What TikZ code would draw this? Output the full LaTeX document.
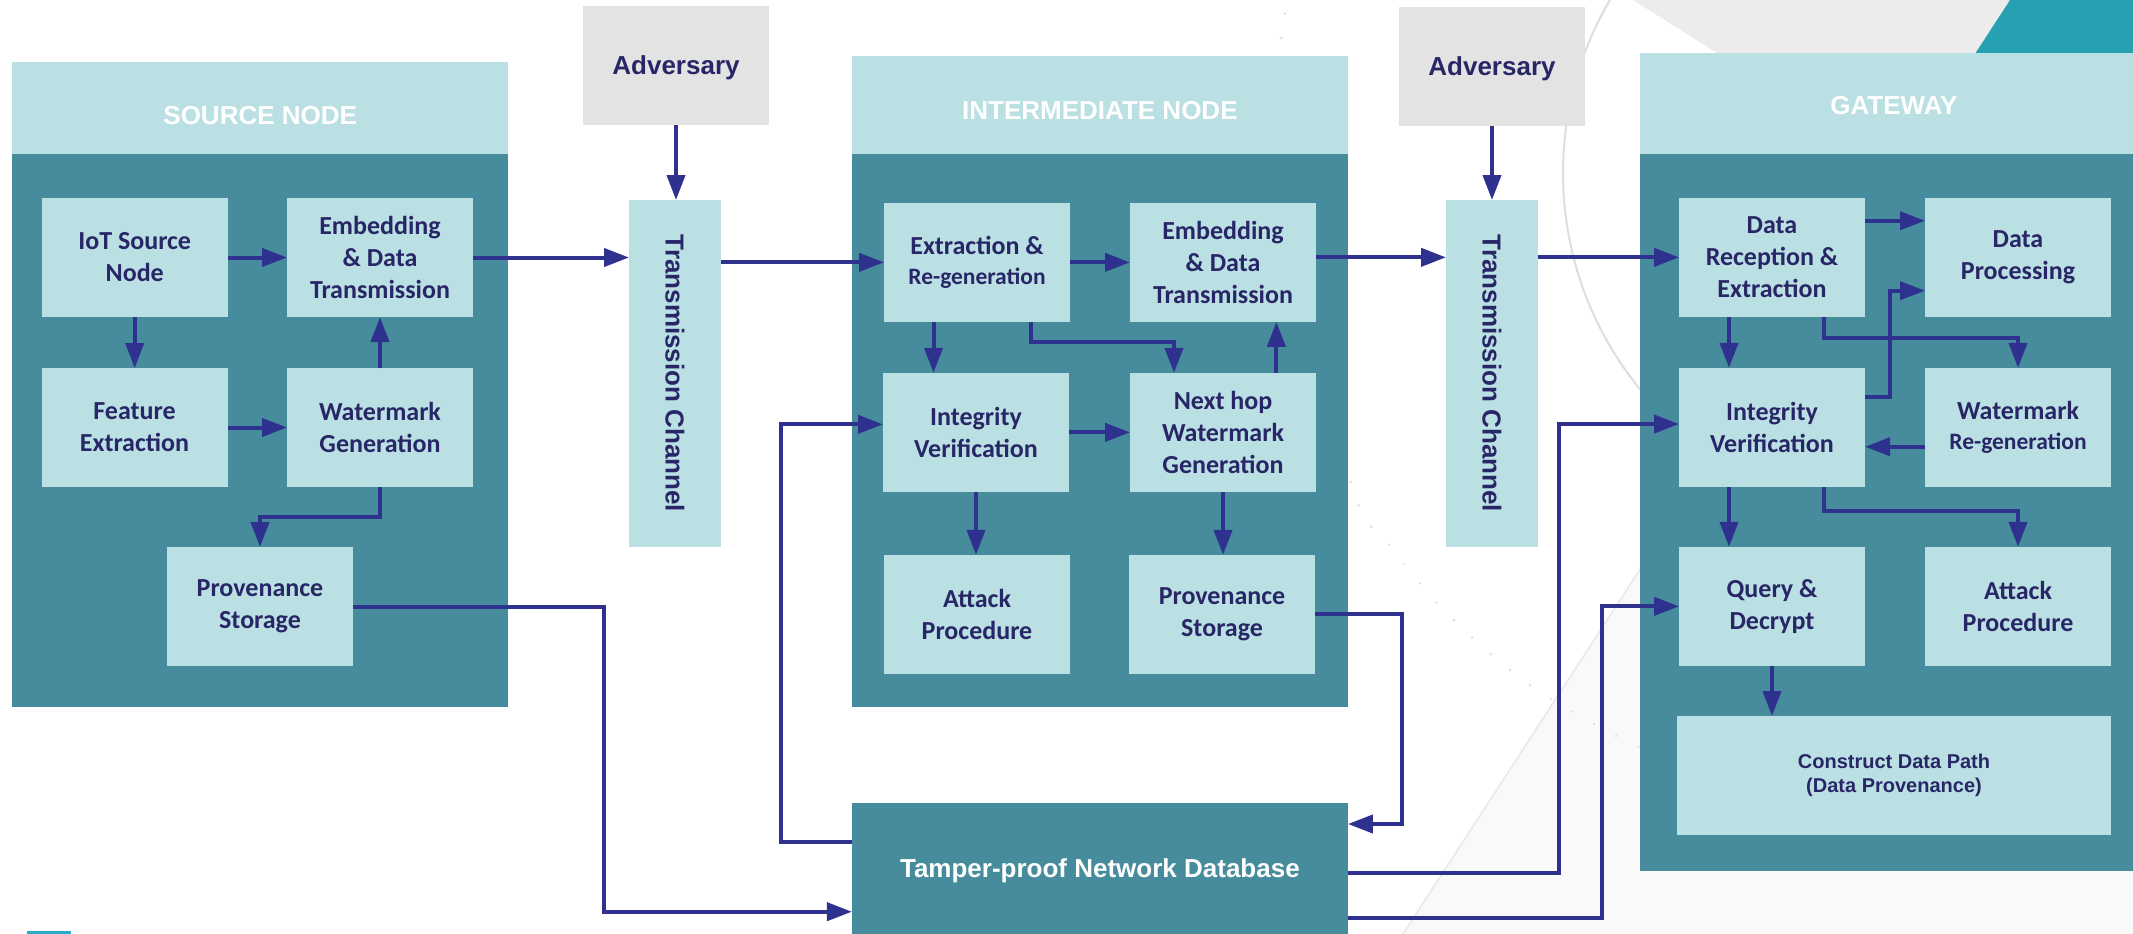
\documentclass[tikz,border=0pt]{standalone}
\usepackage{fontspec}
\usetikzlibrary{arrows.meta,calc}
\newfontfamily\boxfont{Carlito}
\newfontfamily\armfont{Liberation Sans}
\definecolor{panellight}{RGB}{186,224,227}
\definecolor{paneldark}{RGB}{71,140,156}
\definecolor{advgrey}{RGB}{227,227,227}
\definecolor{inknavy}{RGB}{40,38,102}
\definecolor{flowblue}{RGB}{46,49,141}
\definecolor{decoteal}{RGB}{39,160,177}
\definecolor{decogrey}{RGB}{236,236,236}
\definecolor{decopale}{RGB}{249,249,249}
\definecolor{cornerteal}{RGB}{42,172,200}

\begin{document}
\begin{tikzpicture}[x=1pt,y=-1pt,
  every node/.style={inner sep=0pt,outer sep=0pt},
  stepbox/.style={fill=panellight,minimum width=186pt,minimum height=119pt,
    align=center,text=inknavy,font=\boxfont\bfseries\fontsize{26}{32}\selectfont},
  chanbox/.style={fill=panellight,minimum width=92pt,minimum height=346.7pt,
    text=inknavy,font=\armfont\bfseries\fontsize{26}{31}\selectfont},
  advbox/.style={fill=advgrey,minimum width=186pt,minimum height=119pt,
    text=inknavy,text depth=0pt,font=\armfont\bfseries\fontsize{26}{31}\selectfont},
  panelhead/.style={fill=panellight},
  panelbody/.style={fill=paneldark},
  headtext/.style={text=white,font=\armfont\bfseries\fontsize{26}{31}\selectfont},
  dbbox/.style={fill=paneldark,minimum width=496pt,minimum height=131.3pt,
    text=white,text depth=0pt,font=\armfont\bfseries\fontsize{26}{31}\selectfont},
  pathbox/.style={fill=panellight,minimum width=434pt,minimum height=118.7pt,
    align=center,text=inknavy,font=\armfont\bfseries\fontsize{20}{24.3}\selectfont},
  flow/.style={draw=flowblue,line width=4pt,line join=miter,
    -{Triangle[length=25pt,width=18pt]}},
  decodots/.style={draw=black!15,line width=2.4pt,line cap=round,
    dash pattern=on 0pt off 25pt}
]
\useasboundingbox (0,0) rectangle (2133,934);
\clip (0,0) rectangle (2133,934);
\fill[white] (0,0) rectangle (2133,934);

% ---- background decoration ----
\fill[decopale] (1403,934) -- (2010,0) -- (2150,0) -- (2150,934) -- cycle;
\draw[black!9,line width=1.5pt] (1403,934) -- (1700,477);
\draw[black!13,line width=2pt] (1905,173) circle [radius=342pt];
\draw[decodots] plot[smooth] coordinates {(1293,-10) (1281,50) (1300,250) (1353,490)
  (1392,548) (1436,602) (1486,650) (1540,692) (1620,738) (1700,775)};
\fill[decogrey] (1633,0) -- (2010,0) -- (1912.5,150) -- (1870.7,150) -- cycle;
\fill[decoteal] (2010,0) -- (2150,0) -- (2150,150) -- (1912.5,150) -- cycle;
\draw[cornerteal,line width=3pt] (27,932.5) -- (71,932.5);

% ---- source node panel ----
\node[panelhead,minimum width=496pt,minimum height=92pt] (srchead) at (260.2,108) {};
\node[panelbody,minimum width=496pt,minimum height=552.7pt] (srcbody) at (260.2,430.35) {};
\node[headtext] at ([yshift=-7.5pt]srchead.center) {SOURCE NODE};

\node[stepbox] (iot)   at (134.7,257.5) {IoT Source\\Node};
\node[stepbox] (emb1)  at (380,257.5)   {Embedding\\\& Data\\Transmission};
\node[stepbox] (feat)  at (134.5,427.5) {Feature\\Extraction};
\node[stepbox] (wg)    at (380,427.5)   {Watermark\\Generation};
\node[stepbox] (prov1) at (260,606.5)   {Provenance\\Storage};

% ---- first channel ----
\node[advbox] (adv1) at (676,65.5) {Adversary};
\node[chanbox] (tc1) at (675,373.35) {\rotatebox{-90}{Transmission Channel}};

% ---- intermediate node panel ----
\node[panelhead,minimum width=496pt,minimum height=98pt] (inthead) at (1099.9,105) {};
\node[panelbody,minimum width=496pt,minimum height=552.7pt] (intbody) at (1099.9,430.35) {};
\node[headtext] at ([yshift=-6pt]inthead.center) {INTERMEDIATE NODE};

\node[stepbox] (ext)   at (977,262.35)  {Extraction \&\\[-2pt]{\fontsize{23.5}{28}\selectfont Re-generation}};
\node[stepbox] (emb2)  at (1223,262.35) {Embedding\\\& Data\\Transmission};
\node[stepbox] (int2)  at (976,432.35)  {Integrity\\Verification};
\node[stepbox] (next)  at (1223,432.35) {Next hop\\Watermark\\Generation};
\node[stepbox] (att2)  at (977,614.35)  {Attack\\Procedure};
\node[stepbox] (prov2) at (1222,614.35) {Provenance\\Storage};

\node[dbbox] (db) at (1099.9,868.35) {Tamper-proof Network Database};

% ---- second channel ----
\node[advbox] (adv2) at (1492,66.2) {Adversary};
\node[chanbox] (tc2) at (1492,373.35) {\rotatebox{-90}{Transmission Channel}};

% ---- gateway panel ----
\node[panelhead,minimum width=508.2pt,minimum height=101pt] (gwhead) at (1893.9,103.5) {};
\node[panelbody,minimum width=508.2pt,minimum height=716.7pt] (gwbody) at (1893.9,512.35) {};
\node[headtext] at ([yshift=-2pt]gwhead.center) {GATEWAY};

\node[stepbox] (drec)  at (1772,257.35) {Data\\Reception \&\\Extraction};
\node[stepbox] (dproc) at (2018,257.35) {Data\\Processing};
\node[stepbox] (int3)  at (1772,427.35) {Integrity\\Verification};
\node[stepbox] (wmr)   at (2018,427.35) {Watermark\\[-2pt]{\fontsize{23.5}{28}\selectfont Re-generation}};
\node[stepbox] (query) at (1772,606.35) {Query \&\\Decrypt};
\node[stepbox] (att3)  at (2018,606.35) {Attack\\Procedure};
\node[pathbox] (cons)  at (1894,775.35) {Construct Data Path\\(Data Provenance)};

% ---- bend points of the long connectors ----
\coordinate (k1) at (603.6,911.7);
\coordinate (k2) at (1401.9,824);
\coordinate (k3) at (780.6,841.7);
\coordinate (k4) at (1559,873.3);
\coordinate (k5) at (1602.4,917.7);
\coordinate (k6) at (1889.5,290.7);

% ---- source node flows ----
\draw[flow] (iot.east) -- (emb1.west);
\draw[flow] (iot.south) -- (iot.south |- feat.north);
\draw[flow] (feat.east) -- (wg.west);
\draw[flow] (wg.north) -- (emb1.south);
\draw[flow] (wg.south) -- ++(0,29.7) -| (prov1.north);
\draw[flow] (emb1.east) -- (emb1.east -| tc1.west);
\draw[flow] (adv1.south) -- (adv1.south |- tc1.north);
\draw[flow] (prov1.east) -| (k1) -- (k1 -| db.west);

% ---- intermediate node flows ----
\draw[flow] (ext.west -| tc1.east) -- (ext.west);
\draw[flow] (ext.east) -- (emb2.west);
\draw[flow] ([xshift=-43.5pt]ext.south) -- ([xshift=-43.5pt]ext.south |- int2.north);
\draw[flow] ([xshift=54pt]ext.south) -- ++(0,20.6) -| ([xshift=-49pt]next.north);
\draw[flow] (int2.east) -- (next.west);
\draw[flow] ([xshift=53.4pt]next.north) -- ([xshift=53.4pt]next.north |- emb2.south);
\draw[flow] (int2.south) -- (int2.south |- att2.north);
\draw[flow] (next.south) -- (next.south |- prov2.north);
\draw[flow] (prov2.east) -| (k2) -- (k2 -| db.east);
\draw[flow] (k3 -| db.west) -- (k3) |- ([yshift=8pt]int2.west);
\draw[flow] ([yshift=5pt]emb2.east) -- ([yshift=5pt]emb2.east -| tc2.west);
\draw[flow] (adv2.south) -- (adv2.south |- tc2.north);

% ---- gateway flows ----
\draw[flow] (drec.west -| tc2.east) -- (drec.west);
\draw[flow] ([yshift=36.6pt]drec.east) -- ([yshift=36.6pt]drec.east -| dproc.west);
\draw[flow] ([xshift=-43pt]drec.south) -- ([xshift=-43pt]drec.south |- int3.north);
\draw[flow] ([xshift=51.5pt]drec.south) -- ++(0,21.6) -| (wmr.north);
\draw[flow] ([yshift=30.6pt]int3.east) -| (k6) -- (k6 -| dproc.west);
\draw[flow] ([yshift=-19.4pt]wmr.west) -- ([yshift=-19.4pt]wmr.west -| int3.east);
\draw[flow] ([xshift=-43pt]int3.south) -- ([xshift=-43pt]int3.south |- query.north);
\draw[flow] ([xshift=52.4pt]int3.south) -- ++(0,24.3) -| (att3.north);
\draw[flow] (query.south) -- (query.south |- cons.north);
\draw[flow] (k4 -| db.east) -- (k4) |- ([yshift=3.3pt]int3.west);
\draw[flow] (k5 -| db.east) -- (k5) |- (query.west);
\end{tikzpicture}
\end{document}
